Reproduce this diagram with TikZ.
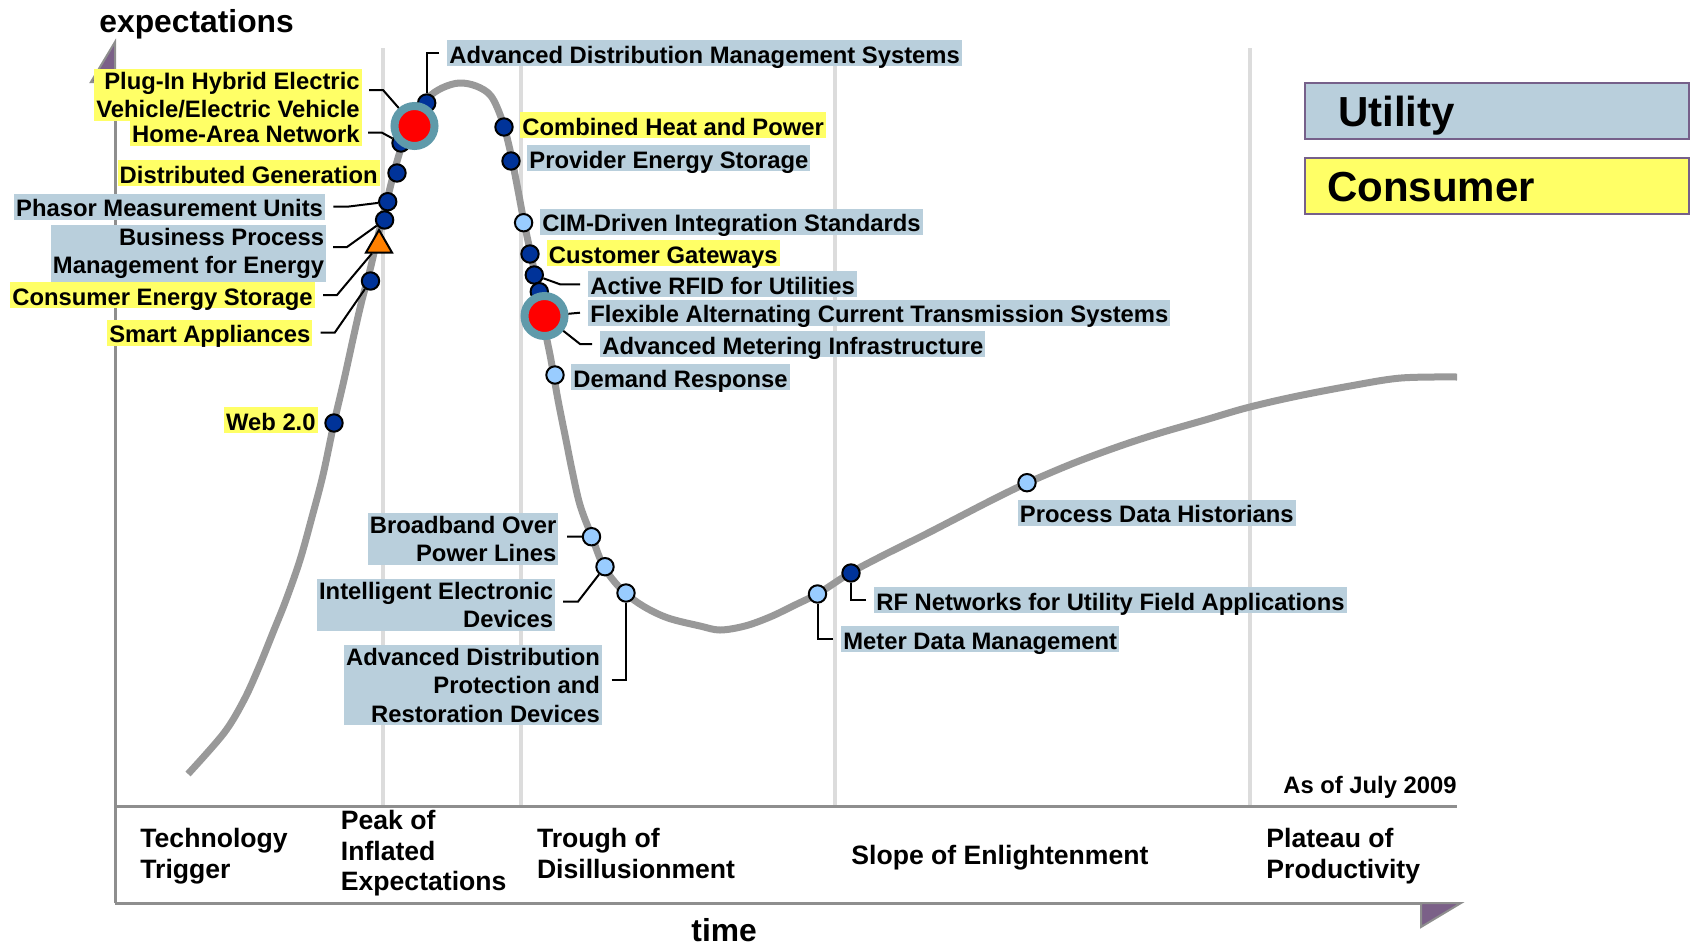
\documentclass[tikz,border=0pt]{standalone}
\usepackage{fontspec}
\setmainfont{Liberation Sans}
\usetikzlibrary{shapes.geometric}
\definecolor{utilblue}{HTML}{B9CFDC}
\definecolor{consyellow}{HTML}{FFFF66}
\definecolor{hypegray}{HTML}{999999}
\definecolor{phasegray}{HTML}{DCDCDC}
\definecolor{axisgray}{HTML}{8E8E8E}
\definecolor{arrowpurple}{HTML}{7B6088}
\definecolor{dotnavy}{HTML}{003399}
\definecolor{dotlight}{HTML}{99CCFF}
\definecolor{ringteal}{HTML}{5F9AAA}
\definecolor{legendframe}{HTML}{76608A}
\begin{document}
\begin{tikzpicture}[x=0.5pt, y=-0.5pt,
  lab/.style={inner xsep=1pt, inner ysep=1.5pt, font=\fontsize{11.9}{14.25}\selectfont\bfseries},
  oneline/.style={text height=10pt, text depth=0pt},
  ulab/.style={lab, fill=utilblue},
  clab/.style={lab, fill=consyellow},
  phase/.style={inner sep=0pt, align=left, font=\fontsize{13.3}{15.25}\selectfont\bfseries},
  axtitle/.style={inner sep=0pt, font=\fontsize{15.9}{18}\selectfont\bfseries},
  navydot/.style={circle, draw=black, line width=1pt, inner sep=0pt, minimum size=8.7pt, fill=dotnavy},
  lightdot/.style={navydot, fill=dotlight},
  bigdot/.style={circle, draw=ringteal, line width=4pt, inner sep=0pt, minimum size=20pt, fill=red},
  conn/.style={draw=black, line width=1pt},
  legendbox/.style={draw=legendframe, line width=1pt, anchor=north west, minimum width=192pt,
    minimum height=28pt, align=left, text height=15.3pt, text depth=0pt,
    font=\fontsize{21}{25}\selectfont\bfseries}]
  \useasboundingbox (0,0) rectangle (1690,948);
  % phase dividers
  \foreach \px in {383,521,835,1250}
    \draw[phasegray, line width=2pt] (\px,48) -- (\px,806);
  % axes and their arrow tips
  \draw[axisgray, line width=1.5pt] (115,903) -- (115,82);
  \draw[axisgray, line width=1.5pt] (115,806) -- (1457,806);
  \draw[axisgray, line width=1.5pt] (115,903) -- (1421,903);
  \filldraw[fill=arrowpurple, draw=axisgray, line width=1pt] (115,42) -- (91,82) -- (115,82) -- cycle;
  \filldraw[fill=arrowpurple, draw=axisgray, line width=1pt] (1421,903) -- (1461,903) -- (1421,927) -- cycle;
  % the hype curve
  \draw[hypegray, line width=3.5pt, line join=round] plot[smooth, tension=0.55] coordinates {
    (188,774) (224,733) (244,700) (259,667) (274,630) (286,600) (300,560)
    (312,517) (323,475) (334,423) (344,380) (355,330) (362,300) (370,270) (377,240)
    (387,200) (396,165) (404,140) (415,118) (428,98) (442,88) (459,83) (476,86)
    (491,96) (502,120) (510,150) (517,185) (524,222) (531,255) (538,290) (545,330)
    (551,360) (558,400) (566,440) (572,470) (580,505) (592,537) (604,567) (622,590)
    (643,606) (668,618) (700,626) (720,630) (745,626) (770,617) (795,605) (819,593)
    (850,573) (880,557) (902,546) (930,532) (959,517) (992,500) (1027,483) (1074,463)
    (1120,446) (1160,433) (1205,420) (1246,408) (1293,397) (1350,386) (1401,378) (1457,377)};
  % technologies on the curve
  \node[navydot] (dadms) at (426.7,103) {};
  \node[navydot] (dhan) at (401,143) {};
  \node[bigdot] (dphev) at (414.5,126) {};
  \node[navydot] (ddg) at (397,173) {};
  \node[navydot] (dpmu) at (387.7,201.7) {};
  \node[navydot] (dbpm) at (384.6,220) {};
  \node[regular polygon, regular polygon sides=3, draw=black, line width=1pt, fill=orange,
    inner sep=0pt, minimum size=15pt] (tces) at (379,245) {};
  \node[navydot] (dsa) at (370.5,281) {};
  \node[navydot] (dweb) at (334,423) {};
  \node[navydot] (dchp) at (504,127) {};
  \node[navydot] (dpes) at (511,161) {};
  \node[lightdot] (dcim) at (523.6,222.7) {};
  \node[navydot] (dcgw) at (530,254) {};
  \node[navydot] (drfid) at (534.3,275) {};
  \node[navydot] (dhid) at (539.3,291.7) {};
  \node[bigdot] (dfacts) at (544.5,316) {};
  \node[lightdot] (ddr) at (555,375) {};
  \node[lightdot] (dbpl) at (591.5,536.7) {};
  \node[lightdot] (died) at (605,566.7) {};
  \node[lightdot] (dadprd) at (626,593) {};
  \node[lightdot] (dmdm) at (817.5,594) {};
  \node[navydot] (drf) at (851,573) {};
  \node[lightdot] (dpdh) at (1027,482.7) {};
  % labels, right of the curve
  \node[ulab, oneline, anchor=base west] (adms) at (447,63.3) {Advanced Distribution Management Systems};
  \node[clab, oneline, anchor=base west] (chp) at (520,135) {Combined Heat and Power};
  \node[ulab, oneline, anchor=base west] (pes) at (527,168.3) {Provider Energy Storage};
  \node[ulab, oneline, anchor=base west] (cim) at (540,231.7) {CIM-Driven Integration Standards};
  \node[clab, oneline, anchor=base west] (cgw) at (546.5,263.3) {Customer Gateways};
  \node[ulab, oneline, anchor=base west] (rfid) at (588,294.3) {Active RFID for Utilities};
  \node[ulab, oneline, anchor=base west] (facts) at (588,322.7) {Flexible Alternating Current Transmission Systems};
  \node[ulab, oneline, anchor=base west] (ami) at (600,354) {Advanced Metering Infrastructure};
  \node[ulab, oneline, anchor=base west] (dr) at (571,387.3) {Demand Response};
  \node[ulab, oneline, anchor=base west] (pdh) at (1017.5,522.7) {Process Data Historians};
  \node[ulab, oneline, anchor=base west] (rfn) at (874,610) {RF Networks for Utility Field Applications};
  \node[ulab, oneline, anchor=base west] (mdm) at (841,649.3) {Meter Data Management};
  % labels, left of the curve
  \node[clab, align=right, anchor=north east] (phev) at (362,68.6) {Plug-In Hybrid Electric\\Vehicle/Electric Vehicle};
  \node[clab, oneline, anchor=base east] (han) at (362,142.7) {Home-Area Network};
  \node[clab, oneline, anchor=base east] (dg) at (380,183) {Distributed Generation};
  \node[ulab, oneline, anchor=base east] (pmu) at (325.4,216.7) {Phasor Measurement Units};
  \node[ulab, align=right, anchor=north east] (bpm) at (326.5,224.6) {Business Process\\Management for Energy};
  \node[clab, oneline, anchor=base east] (ces) at (315,305) {Consumer Energy Storage};
  \node[clab, oneline, anchor=base east] (sa) at (312.7,342.7) {Smart Appliances};
  \node[clab, oneline, anchor=base east] (web) at (318,430) {Web 2.0};
  \node[ulab, align=right, anchor=north east] (bpl) at (558.7,512.6) {Broadband Over\\Power Lines};
  \node[ulab, align=right, anchor=north east] (ied) at (555.6,578.6) {Intelligent Electronic\\Devices};
  \node[ulab, align=right, anchor=north east] (adprd) at (602.4,644.6) {Advanced Distribution\\Protection and\\Restoration Devices};
  % connectors
  \draw[conn] ([xshift=-4pt]adms.west) -| (dadms);
  \draw[conn] ([shift={(7,21.4)}]phev.north east) -- ++(14,0) -- (dphev);
  \draw[conn] ([xshift=3pt]han.east) -- ++(14,0) -- (dhan);
  \draw[conn] ([xshift=4pt]pmu.east) -- ++(14,0) -- (dpmu);
  \draw[conn] ([shift={(6.5,22.4)}]bpm.north east) -- ++(14,0) -- (dbpm);
  \draw[conn] ([xshift=4pt]ces.east) -- ++(14,0) -- (tces);
  \draw[conn] ([xshift=4pt]sa.east) -- ++(14,0) -- (dsa);
  \draw[conn] ([xshift=-4pt]rfid.west) -- ++(-20,0) -- (drfid);
  \draw[conn] ([xshift=-4pt]facts.west) -- (dfacts);
  \draw[conn] ([xshift=-4pt]ami.west) -- ++(-12,0) -- (dfacts);
  \draw[conn] ([shift={(8.3,24)}]bpl.north east) -- (dbpl);
  \draw[conn] ([shift={(7.4,23)}]ied.north east) -- ++(15,0) -- (died);
  \draw[conn] ([shift={(9.2,35.4)}]adprd.north east) -| (dadprd);
  \draw[conn] ([xshift=-4pt]rfn.west) -| (drf);
  \draw[conn] ([xshift=-4pt]mdm.west) -| (dmdm);
  % phases
  \node[phase, anchor=north west] (trig) at (140,828) {Technology\\Trigger};
  \node[phase, anchor=north west] (peak) at (340.5,810) {Peak of\\Inflated\\Expectations};
  \node[phase, anchor=north west] (trough) at (536.6,828) {Trough of\\Disillusionment};
  \node[phase, anchor=base west] (slope) at (851,864) {Slope of Enlightenment};
  \node[phase, anchor=north west] (plateau) at (1266,828) {Plateau of\\Productivity};
  % axis titles and date
  \node[axtitle, anchor=base west] (ylab) at (99,32) {expectations};
  \node[axtitle, anchor=base west] (xlab) at (691,941) {time};
  \node[lab, inner sep=0pt, anchor=base east] (asof) at (1457,793) {As of July 2009};
  % legend
  \node[legendbox, fill=utilblue, inner xsep=16.5pt, text width=159pt] (utility) at (1304,82) {Utility};
  \node[legendbox, fill=consyellow, inner xsep=11pt, text width=170pt] (consumer) at (1304,157) {Consumer};
\end{tikzpicture}
\end{document}
